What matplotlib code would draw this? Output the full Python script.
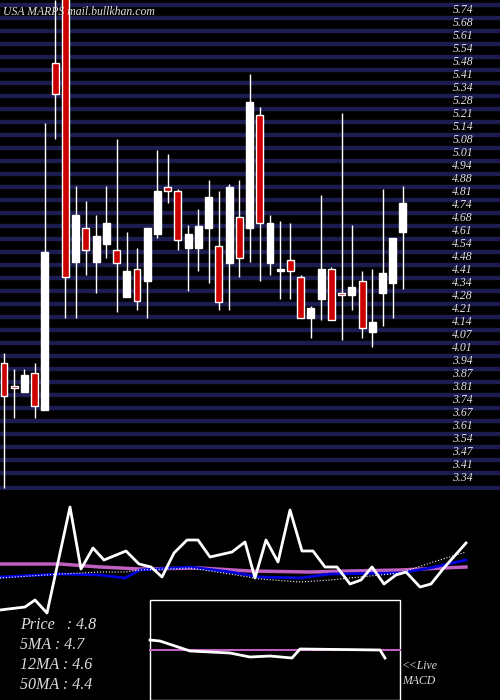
import matplotlib
matplotlib.use('Agg')
import matplotlib.pyplot as plt

# candles: open, high, low, close
opens  = [3.93, 3.81, 3.78, 3.88, 3.69, 5.47, 5.80, 4.45, 4.62, 4.45, 4.54, 4.51, 4.27, 4.41, 4.35, 4.59, 4.83, 4.81, 4.52, 4.52,
          4.62, 4.53, 4.44, 4.68, 4.62, 5.20, 4.44, 4.40, 4.46, 4.37, 4.16, 4.26, 4.41, 4.29, 4.28, 4.35, 4.09, 4.29, 4.34, 4.60]
highs  = [3.98, 3.90, 3.90, 3.93, 5.16, 5.79, 5.80, 4.84, 4.76, 4.69, 4.84, 5.08, 4.60, 4.52, 4.62, 5.02, 5.00, 4.82, 4.64, 4.72,
          4.87, 4.81, 4.85, 4.87, 5.41, 5.24, 4.69, 4.66, 4.65, 4.38, 4.22, 4.79, 4.42, 5.21, 4.64, 4.40, 4.41, 4.82, 4.57, 4.84]
lows   = [3.29, 3.65, 3.78, 3.65, 3.69, 5.08, 4.16, 4.16, 4.38, 4.29, 4.47, 4.19, 4.27, 4.20, 4.16, 4.57, 4.75, 4.51, 4.30, 4.40,
          4.34, 4.20, 4.20, 4.37, 4.45, 4.35, 4.38, 4.26, 4.26, 4.16, 4.06, 4.15, 4.15, 4.05, 4.20, 4.06, 4.01, 4.12, 4.16, 4.31]
closes = [3.76, 3.80, 3.87, 3.71, 4.50, 5.31, 4.37, 4.69, 4.51, 4.58, 4.65, 4.44, 4.40, 4.25, 4.62, 4.81, 4.81, 4.56, 4.59, 4.63,
          4.78, 4.24, 4.83, 4.47, 5.27, 4.65, 4.65, 4.40, 4.40, 4.16, 4.21, 4.41, 4.15, 4.28, 4.32, 4.11, 4.14, 4.39, 4.57, 4.75]

tick_labels = ['5.74', '5.68', '5.61', '5.54', '5.48', '5.41', '5.34', '5.28', '5.21', '5.14', '5.08', '5.01',
               '4.94', '4.88', '4.81', '4.74', '4.68', '4.61', '4.54', '4.48', '4.41', '4.34', '4.28', '4.21',
               '4.14', '4.07', '4.01', '3.94', '3.87', '3.81', '3.74', '3.67', '3.61', '3.54', '3.47', '3.41', '3.34']

# lower panel (arbitrary units, bigger = higher)
price_x = [0, 25, 35, 47, 70, 81, 93, 104, 126, 139, 151, 162, 174, 187, 198, 210, 232, 245, 255, 266, 278, 290,
           302, 313, 325, 337, 350, 361, 372, 384, 396, 406, 420, 431, 443, 466]
price_v = [90, 93, 100, 87, 193, 131, 152, 140, 149, 136, 133, 123, 147, 160, 160, 143, 148, 158, 122, 160, 138, 190,
           149, 149, 133, 133, 116, 120, 133, 116, 125, 128, 113, 116, 131, 157]
ma_x = [0, 60, 100, 125, 140, 190, 230, 260, 300, 330, 400, 430, 466]
ma12_v = [123, 126, 125, 122, 130, 133, 128, 123, 122, 126, 127, 132, 140]
ma5_v = [122, 126, 128, 128, 130, 132, 126, 121, 118, 120, 127, 137, 148]
ma50_x = [0, 60, 100, 140, 200, 250, 310, 350, 400, 466]
ma50_v = [136, 136, 133, 131, 132, 129, 128, 129, 130, 133]
macd_x = [150, 160, 190, 230, 250, 270, 292, 300, 380, 385]
macd_v = [60, 59, 49, 47, 43, 44, 42, 51, 50, 42]

fig = plt.figure(figsize=(5, 7), dpi=100, facecolor='black')

# price panel: y pixel 0..490
ax = fig.add_axes([0, 210 / 700, 1, 490 / 700])
ax.set_facecolor('black')
top, bottom = 5.74 + 10 / 195, 5.74 - 480 / 195
ax.set_ylim(bottom, top)
ax.set_xlim(-4 / 10.23, 496 / 10.23)
ax.axis('off')

step = 13 / 195
for k, lab in enumerate(tick_labels):
    p = 5.74 - k * step
    ax.axhline(p + 5 / 195, color='#1c1c50', lw=3.2, zorder=0)
    ax.text(473 / 10.23 - 4 / 10.23, p, lab, color='#e0e0e0', fontsize=8.5, family='Liberation Serif',
            style='italic', ha='right', va='center')
ax.axhline(bottom + 2 / 195, color='#1c1c50', lw=3.2, zorder=0)

for i in range(len(opens)):
    o, h, l, c = opens[i], highs[i], lows[i], closes[i]
    up = c >= o
    ax.vlines(i, l, h, color='white', lw=1, zorder=2)
    lo, hi = min(o, c), max(o, c)
    ax.bar(i, max(hi - lo, 0.01), bottom=lo, width=0.68, color='white' if up else '#cc0000',
           edgecolor='white', lw=1, zorder=3)

ax.text(3 / 10.23 - 4 / 10.23, 5.74 - 2 / 195, 'USA MARPS mail.bullkhan.com', color='#e0e0e0', fontsize=8.5,
        family='Liberation Serif', style='italic', va='center')

# lower panel: y pixel 490..700
ax2 = fig.add_axes([0, 0, 1, 210 / 700])
ax2.set_facecolor('black')
ax2.set_xlim(0, 500)
ax2.set_ylim(0, 210)
ax2.axis('off')
ax2.plot(ma50_x, ma50_v, color='#c060c0', lw=2.5)
ax2.plot(ma_x, ma12_v, color='#0000dd', lw=2)
ax2.plot(ma_x, ma5_v, color='white', lw=0.8, ls=':')
ax2.plot(price_x, price_v, color='white', lw=2)

ax2.add_patch(plt.Rectangle((150, 0), 250, 100, fill=False, edgecolor='white', lw=1, zorder=4))
ax2.plot([150, 400], [50, 50], color='#c060c0', lw=1.5, zorder=5)
ax2.plot(macd_x, macd_v, color='white', lw=2, zorder=6)

for j, t in enumerate(['Price   : 4.8', '5MA : 4.7', '12MA : 4.6', '50MA : 4.4']):
    ax2.text(20, 75 - 20 * j, t, color='#e0e0e0', fontsize=11.5, family='Liberation Serif', style='italic', va='center')
ax2.text(402, 34, '<<Live', color='#e0e0e0', fontsize=8.5, family='Liberation Serif', style='italic', va='center')
ax2.text(402, 19, 'MACD', color='#e0e0e0', fontsize=8.5, family='Liberation Serif', style='italic', va='center')

fig.savefig('out.png', dpi=100, facecolor='black')
